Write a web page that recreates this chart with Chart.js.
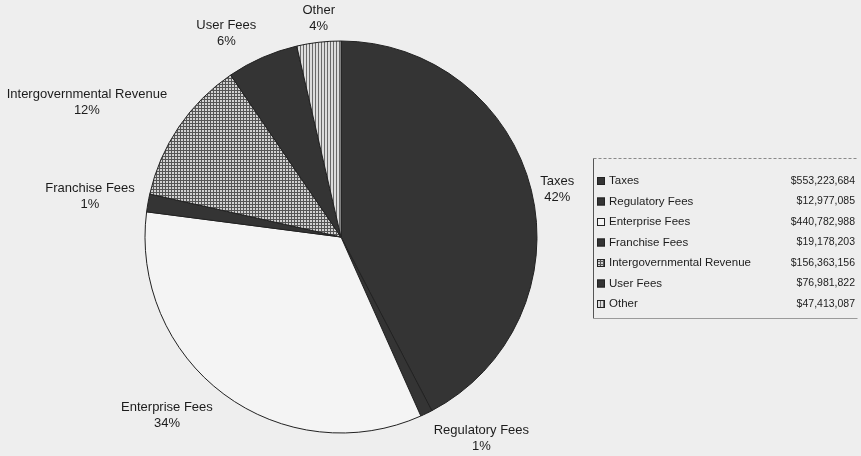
<!DOCTYPE html>
<html>
<head>
<meta charset="utf-8">
<script src="https://cdn.jsdelivr.net/npm/chart.js@4.4.1/dist/chart.umd.min.js"></script>
<style>
  html, body { margin: 0; padding: 0; background: #eeeeee; }
  #wrap { width: 861px; height: 456px; position: relative; }
</style>
</head>
<body>
<div id="wrap"><canvas id="revenueChart" width="861" height="456"></canvas></div>
<script>
// Revenue sources, clockwise from 12 o'clock
const sources = ['Taxes', 'Regulatory Fees', 'Enterprise Fees', 'Franchise Fees',
                 'Intergovernmental Revenue', 'User Fees', 'Other'];
const amounts = [553223684, 12977085, 440782988, 19178203, 156363156, 76981822, 47413087];

const total = amounts.reduce((a, b) => a + b, 0);

// label placement relative to the arc's outer midpoint (px)
const labelNudge = [[26, -1], [55, 25], [-57, 21], [-58, -6], [-92, -24], [-36, -24], [0, -24]];

const FONT = '"Liberation Sans", Arial, sans-serif';
const DARK = '#343434';

// small repeating tiles for the hatched slices
function makePattern(bg, ink, kind) {
    const c = document.createElement('canvas');
    c.width = 3;
    c.height = 3;
    const g = c.getContext('2d');
    g.fillStyle = bg;
    g.fillRect(0, 0, 3, 3);
    g.fillStyle = ink;
    g.fillRect(0, 0, 1, 3);
    if (kind === 'grid') {
        g.fillRect(0, 0, 3, 1);
    }
    return g.createPattern(c, 'repeat');
}

const gridFill = makePattern('#d2d2d2', '#555555', 'grid');
const lineFill = makePattern('#dddddd', '#6a6a6a', 'lines');
const sliceFills = [DARK, DARK, '#f4f4f4', DARK, gridFill, DARK, lineFill];

function money(v) {
    return '$' + v.toLocaleString('en-US');
}

// page background
const paper = {
    id: 'paper',
    beforeDraw(chart) {
        const ctx = chart.ctx;
        ctx.save();
        ctx.fillStyle = '#eeeeee';
        ctx.fillRect(0, 0, chart.width, chart.height);
        ctx.restore();
    }
};

// name + percent outside each slice
const sliceLabels = {
    id: 'sliceLabels',
    afterDatasetsDraw(chart) {
        const ctx = chart.ctx;
        const meta = chart.getDatasetMeta(0);
        ctx.save();
        ctx.font = '13px ' + FONT;
        ctx.fillStyle = '#1c1c1c';
        ctx.textAlign = 'center';
        ctx.textBaseline = 'middle';
        meta.data.forEach((arc, i) => {
            const p = arc.getProps(['x', 'y', 'startAngle', 'endAngle', 'outerRadius'], true);
            const mid = (p.startAngle + p.endAngle) / 2;
            const x = p.x + Math.cos(mid) * p.outerRadius + labelNudge[i][0];
            const y = p.y + Math.sin(mid) * p.outerRadius + labelNudge[i][1];
            const pct = Math.round(amounts[i] / total * 100) + '%';
            ctx.fillText(sources[i], x, y - 8);
            ctx.fillText(pct, x, y + 8);
        });
        ctx.restore();
    }
};

// boxed legend with amounts on the right
const amountLegend = {
    id: 'amountLegend',
    afterDraw(chart) {
        const ctx = chart.ctx;
        const box = { left: 593.5, top: 158.5, right: 857.5, bottom: 318.5 };
        ctx.save();
        ctx.strokeStyle = '#8a8a8a';
        ctx.lineWidth = 1;
        ctx.setLineDash([3, 2]);
        ctx.beginPath();
        ctx.moveTo(box.left, box.top);
        ctx.lineTo(box.right, box.top);
        ctx.stroke();
        ctx.setLineDash([]);
        ctx.strokeStyle = '#555555';
        ctx.beginPath();
        ctx.moveTo(box.left, box.top);
        ctx.lineTo(box.left, box.bottom);
        ctx.stroke();
        ctx.strokeStyle = '#9a9a9a';
        ctx.beginPath();
        ctx.moveTo(box.left, box.bottom);
        ctx.lineTo(box.right, box.bottom);
        ctx.stroke();

        ctx.textBaseline = 'middle';
        sources.forEach((name, i) => {
            const y = 181 + i * 20.5;
            ctx.fillStyle = sliceFills[i];
            ctx.fillRect(597, y - 4, 8, 8);
            ctx.strokeStyle = '#222222';
            ctx.strokeRect(597.5, y - 3.5, 7, 7);
            ctx.fillStyle = '#1c1c1c';
            ctx.font = '11.5px ' + FONT;
            ctx.textAlign = 'left';
            ctx.fillText(name, 609, y);
            ctx.font = '10.5px ' + FONT;
            ctx.textAlign = 'right';
            ctx.fillText(money(amounts[i]), 855, y);
        });
        ctx.restore();
    }
};

const ctx = document.getElementById('revenueChart').getContext('2d');
new Chart(ctx, {
    type: 'pie',
    data: {
        labels: sources,
        datasets: [{
            data: amounts,
            backgroundColor: sliceFills,
            borderColor: '#222222',
            borderWidth: 1,
            hoverOffset: 0
        }]
    },
    options: {
        responsive: false,
        devicePixelRatio: 1,
        animation: false,
        radius: 196,
        layout: {
            padding: { left: 0, right: 179, top: 18, bottom: 0 }
        },
        plugins: {
            legend: { display: false },
            tooltip: { enabled: false }
        }
    },
    plugins: [paper, sliceLabels, amountLegend]
});
</script>
</body>
</html>
